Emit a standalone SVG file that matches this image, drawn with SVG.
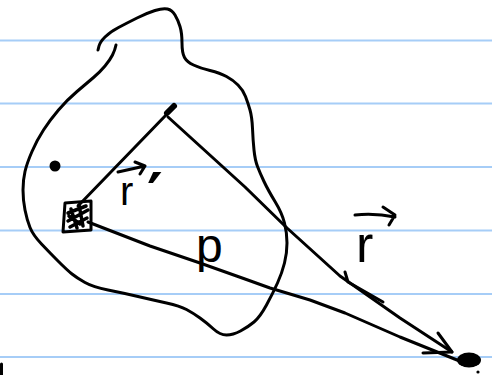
<svg xmlns="http://www.w3.org/2000/svg" width="492" height="375" viewBox="0 0 492 375">
<style>
.rule{stroke:#a6cdf7;stroke-width:2}
.ink{fill:none;stroke:#000;stroke-width:3;stroke-linecap:round;stroke-linejoin:round}
.lbl{font-family:"Liberation Sans",Arial,sans-serif;fill:#000}
</style>
<rect width="492" height="375" fill="#fff"/>
<g id="paper">
<line class="rule" x1="0" y1="40.5" x2="492" y2="40.5"/>
<line class="rule" x1="0" y1="103.5" x2="492" y2="103.5"/>
<line class="rule" x1="0" y1="167" x2="492" y2="167"/>
<line class="rule" x1="0" y1="230.5" x2="492" y2="230.5"/>
<line class="rule" x1="0" y1="294" x2="492" y2="294"/>
<line class="rule" x1="0" y1="357" x2="492" y2="357"/>
</g>
<g id="region">
<path class="ink" d="M98,50 L99,46 Q100,42 105,37 Q110,32 118.5,27.5 Q127,23 137,18 Q147,13 155,10.5 Q163,8 167.5,9 Q172,10 175,15 Q178,20 180,26.5 Q182,33 182,43 Q182,53 184.5,57.5 Q187,62 193.5,65 Q200,68 210,70.5 Q220,73 226.5,76.5 Q233,80 238,85 Q243,90 245.5,96.5 Q248,103 250,110 Q252,117 252.5,128.5 Q253,140 254,150 Q255,160 257.5,166.5 Q260,173 264,181.5 Q268,190 275,201.5 Q282,213 284.5,223 Q287,233 287,243 Q287,253 284.5,263 Q282,273 277.5,283 Q273,293 266.5,305 Q260,317 254,322 Q248,327 240.5,331 Q233,335 226.5,335 Q220,335 213.5,329 Q207,323 200,318 Q193,313 186.5,309.5 Q180,306 166.5,303 Q153,300 138,296.5 Q123,293 108,290 Q93,287 85,282.5 Q77,278 72,274 Q67,270 58.5,261.5 Q50,253 41.5,244 Q33,235 30,227.5 Q27,220 25,210 Q23,200 23,190 Q23,180 25,171.5 Q27,163 32,151.5 Q37,140 43.5,130 Q50,120 58.5,110 Q67,100 77,91.5 Q87,83 93.5,77.5 Q100,72 105,66 Q110,60 112.5,55 Q115,50 116,45"/>
</g>
<g id="dot">
<circle cx="55" cy="166" r="5.5" fill="#000"/>
</g>
<g id="source">
<path class="ink" d="M65,203 L91,201 L91,230 L63,232 Z"/>
<path class="ink" style="stroke-width:3.5" d="M68,213 L86,206 M68,221 L88,210 M70,227 L87,218 M71,209 L77,228 M79,205 L83,226 M69,216 L80,224"/>
</g>
<g id="tip">
<path class="ink" style="stroke-width:6" d="M167,113 L174,106"/>
</g>
<g id="target">
<ellipse cx="469" cy="360" rx="12" ry="7.5" fill="#000"/>
<circle cx="478" cy="372" r="1.6" fill="#000"/>
</g>
<g id="connectors">
<path class="ink" d="M78,206 L167,114"/>
<path class="ink" d="M168,117 L245,187 L287,228 L340,276 L400,318 L452,352"/>
<path class="ink" d="M345,272 L348,282 L383,302"/>
<path class="ink" d="M438,333 L452,352 L423,353"/>
<path class="ink" d="M88,222 L150,246 L200,263 L245,279 L270,288 L310,300 L345,313 L400,337 L462,362"/>
</g>
<g id="labels">
<path class="ink" d="M118,172 L145,166 M135,162 L145,166 L140,174"/>
<text class="lbl" x="120" y="205" font-size="40">r</text>
<text x="147" y="216" font-size="60" font-weight="bold" font-family="DejaVu Sans,sans-serif">′</text>
<path class="ink" d="M355,215 Q375,213 395,217 M383,207 L395,215 L389,225"/>
<text class="lbl" x="356" y="262" font-size="52">r</text>
<text class="lbl" x="196" y="262" font-size="48">p</text>
</g>
<g id="mark">
<path class="ink" d="M1.5,364 L1.5,375"/>
</g>
</svg>
